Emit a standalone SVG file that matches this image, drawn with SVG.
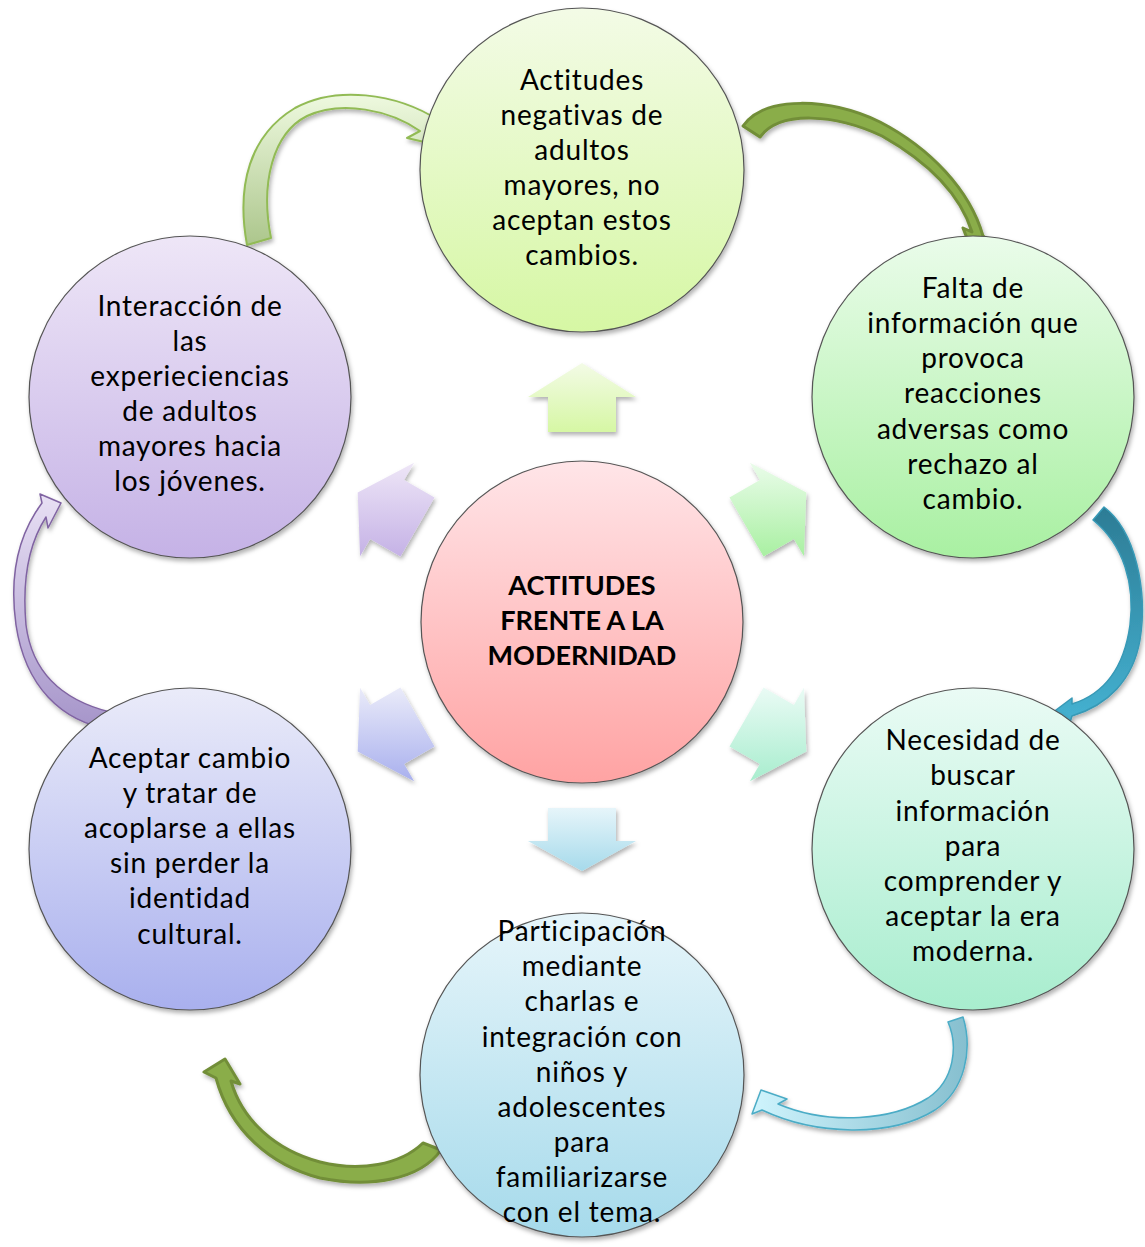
<svg xmlns="http://www.w3.org/2000/svg" width="1145" height="1247" viewBox="0 0 1145 1247">
<style>
.node circle{stroke:#555;stroke-width:1.2;filter:url(#sh)}
.t{font-family:Lato,"Liberation Sans",sans-serif;font-size:28px;letter-spacing:0.8px;fill:#000;text-anchor:middle}
.tb{font-family:Lato,"Liberation Sans",sans-serif;font-size:27px;font-weight:bold;fill:#000;text-anchor:middle}
.blk{filter:url(#sh)}
</style>
<defs>
<filter id="sh" x="-20%" y="-20%" width="140%" height="140%"><feDropShadow dx="1.5" dy="3" stdDeviation="2" flood-color="#000" flood-opacity="0.3"/></filter>
<linearGradient id="gTop" x1="0" y1="0" x2="0" y2="1"><stop offset="0" stop-color="#f3fbe6"/><stop offset="1" stop-color="#d6f7a4"/></linearGradient>
<linearGradient id="gUR" x1="0" y1="0" x2="0" y2="1"><stop offset="0" stop-color="#eafcea"/><stop offset="1" stop-color="#a9f0a2"/></linearGradient>
<linearGradient id="gLR" x1="0" y1="0" x2="0" y2="1"><stop offset="0" stop-color="#eafbf5"/><stop offset="1" stop-color="#a8edce"/></linearGradient>
<linearGradient id="gB" x1="0" y1="0" x2="0" y2="1"><stop offset="0" stop-color="#e6f5fa"/><stop offset="1" stop-color="#a6daeb"/></linearGradient>
<linearGradient id="gLL" x1="0" y1="0" x2="0" y2="1"><stop offset="0" stop-color="#eaebf9"/><stop offset="1" stop-color="#a9b0ee"/></linearGradient>
<linearGradient id="gUL" x1="0" y1="0" x2="0" y2="1"><stop offset="0" stop-color="#eee6f7"/><stop offset="1" stop-color="#c5b2e6"/></linearGradient>
<linearGradient id="gC" x1="0" y1="0" x2="0" y2="1"><stop offset="0" stop-color="#ffe5e8"/><stop offset="1" stop-color="#ffa3a3"/></linearGradient>
<linearGradient id="aGreenL" x1="0" y1="0" x2="0" y2="1"><stop offset="0" stop-color="#eef9df"/><stop offset="1" stop-color="#acc68c"/></linearGradient>
<linearGradient id="aTeal" x1="0" y1="0" x2="0" y2="1"><stop offset="0" stop-color="#2c7c95"/><stop offset="1" stop-color="#46b4d4"/></linearGradient>
<linearGradient id="aBlueL" x1="0" y1="0" x2="1" y2="0"><stop offset="0" stop-color="#cff4fd"/><stop offset="1" stop-color="#86bfcf"/></linearGradient>
<linearGradient id="aPurp" x1="0" y1="0" x2="0" y2="1"><stop offset="0" stop-color="#e8e0f4"/><stop offset="1" stop-color="#a594c9"/></linearGradient>
</defs>

<g id="connectors">
  <!-- block arrows from centre -->
  <polygon class="blk" fill="url(#gTop)" points="582,363 636,397 616,397 616,432 548,432 548,397 528,397"/>
  <polygon class="blk" fill="url(#gUR)" points="806.3,492.5 803.9,556.3 793.9,538.9 763.5,556.4 729.5,497.6 759.9,480.1 749.9,462.7"/>
  <polygon class="blk" fill="url(#gLR)" points="806.3,751.5 749.9,781.3 759.9,763.9 729.5,746.4 763.5,687.6 793.9,705.1 803.9,687.7"/>
  <polygon class="blk" fill="url(#gB)" points="582,871 528,841 548,841 548,808 616,808 616,841 636,841"/>
  <polygon class="blk" fill="url(#gLL)" points="357.7,751.5 360.1,687.7 370.1,705.1 400.5,687.6 434.5,746.4 404.1,763.9 414.1,781.3"/>
  <polygon class="blk" fill="url(#gUL)" points="357.7,492.5 414.1,462.7 404.1,480.1 434.5,497.6 400.5,556.4 370.1,538.9 360.1,556.3"/>

  <!-- curved arrows between nodes -->
  <path class="blk" fill="url(#aGreenL)" stroke="#92bb55" stroke-width="2" stroke-linejoin="round"
        d="M247,245 C236,185 250,135 295,108 C335,86 395,92 440,121 L452,114 L446,147 L407,138 L420,131 C390,110 342,100 307,116 C273,133 260,183 271,238 Z"/>
  <path class="blk" fill="#8aad4a" stroke="#728e39" stroke-width="3" stroke-linejoin="round"
        d="M743,126 C765,95 830,98 880,122 C930,148 970,190 983,236 L996,246 L975,259 L963,228 L972,232 C960,194 928,162 882,136 C835,114 780,110 760,137 Z"/>
  <path class="blk" fill="url(#aTeal)" stroke="#3799b6" stroke-width="1.5" stroke-linejoin="round"
        d="M1104,507 C1135,530 1148,590 1140,640 C1133,680 1108,705 1072,716 L1067,732 L1048,716 L1072,698 L1072,704 C1104,694 1124,668 1130,625 C1135,585 1124,545 1093,520 Z"/>
  <path class="blk" fill="url(#aBlueL)" stroke="#4bacc6" stroke-width="1.5" stroke-linejoin="round"
        d="M963,1017 C973,1050 965,1090 935,1110 C890,1138 815,1135 762,1110 L752,1114 L761,1090 L787,1099 L778,1104 C830,1126 893,1120 928,1098 C955,1080 958,1045 948,1022 Z"/>
  <path class="blk" fill="#8aad4a" stroke="#728e39" stroke-width="3" stroke-linejoin="round"
        d="M441,1150 C420,1180 370,1188 320,1178 C270,1165 230,1130 216,1078 L204,1072 L225,1059 L240,1084 L231,1081 C242,1120 275,1150 320,1162 C360,1172 400,1165 423,1143 Z"/>
  <path class="blk" fill="url(#aPurp)" stroke="#8064a2" stroke-width="1.5" stroke-linejoin="round"
        d="M113,730 C60,722 25,685 16,625 C9,575 18,535 42,503 L40,494 L61,503 L48,528 L46,517 C28,545 22,580 26,625 C32,672 62,700 110,712 Z"/>
</g>

<g id="node-center" class="node">
  <circle cx="582" cy="622" r="161" fill="url(#gC)"/>
  <text class="tb" x="582" y="595">ACTITUDES</text>
  <text class="tb" x="582" y="630">FRENTE A LA</text>
  <text class="tb" x="582" y="665">MODERNIDAD</text>
</g>

<g id="node-top" class="node">
  <circle cx="582" cy="170" r="162" fill="url(#gTop)"/>
  <text class="t" x="582" y="90">Actitudes</text>
  <text class="t" x="582" y="125">negativas de</text>
  <text class="t" x="582" y="160">adultos</text>
  <text class="t" x="582" y="195">mayores, no</text>
  <text class="t" x="582" y="230">aceptan estos</text>
  <text class="t" x="582" y="265">cambios.</text>
</g>

<g id="node-upper-right" class="node">
  <circle cx="973" cy="397" r="161" fill="url(#gUR)"/>
  <text class="t" x="973" y="298">Falta de</text>
  <text class="t" x="973" y="333">información que</text>
  <text class="t" x="973" y="368">provoca</text>
  <text class="t" x="973" y="403">reacciones</text>
  <text class="t" x="973" y="439">adversas como</text>
  <text class="t" x="973" y="474">rechazo al</text>
  <text class="t" x="973" y="509">cambio.</text>
</g>

<g id="node-lower-right" class="node">
  <circle cx="973" cy="849" r="161" fill="url(#gLR)"/>
  <text class="t" x="973" y="750">Necesidad de</text>
  <text class="t" x="973" y="785">buscar</text>
  <text class="t" x="973" y="821">información</text>
  <text class="t" x="973" y="856">para</text>
  <text class="t" x="973" y="891">comprender y</text>
  <text class="t" x="973" y="926">aceptar la era</text>
  <text class="t" x="973" y="961">moderna.</text>
</g>

<g id="node-bottom" class="node">
  <circle cx="582" cy="1075" r="162" fill="url(#gB)"/>
  <text class="t" x="582" y="941">Participación</text>
  <text class="t" x="582" y="976">mediante</text>
  <text class="t" x="582" y="1011">charlas e</text>
  <text class="t" x="582" y="1047">integración con</text>
  <text class="t" x="582" y="1082">niños y</text>
  <text class="t" x="582" y="1117">adolescentes</text>
  <text class="t" x="582" y="1152">para</text>
  <text class="t" x="582" y="1187">familiarizarse</text>
  <text class="t" x="582" y="1222">con el tema.</text>
</g>

<g id="node-lower-left" class="node">
  <circle cx="190" cy="849" r="161" fill="url(#gLL)"/>
  <text class="t" x="190" y="768">Aceptar cambio</text>
  <text class="t" x="190" y="803">y tratar de</text>
  <text class="t" x="190" y="838">acoplarse a ellas</text>
  <text class="t" x="190" y="873">sin perder la</text>
  <text class="t" x="190" y="908">identidad</text>
  <text class="t" x="190" y="944">cultural.</text>
</g>

<g id="node-upper-left" class="node">
  <circle cx="190" cy="397" r="161" fill="url(#gUL)"/>
  <text class="t" x="190" y="316">Interacción de</text>
  <text class="t" x="190" y="351">las</text>
  <text class="t" x="190" y="386">experieciencias</text>
  <text class="t" x="190" y="421">de adultos</text>
  <text class="t" x="190" y="456">mayores hacia</text>
  <text class="t" x="190" y="491">los jóvenes.</text>
</g>
</svg>
